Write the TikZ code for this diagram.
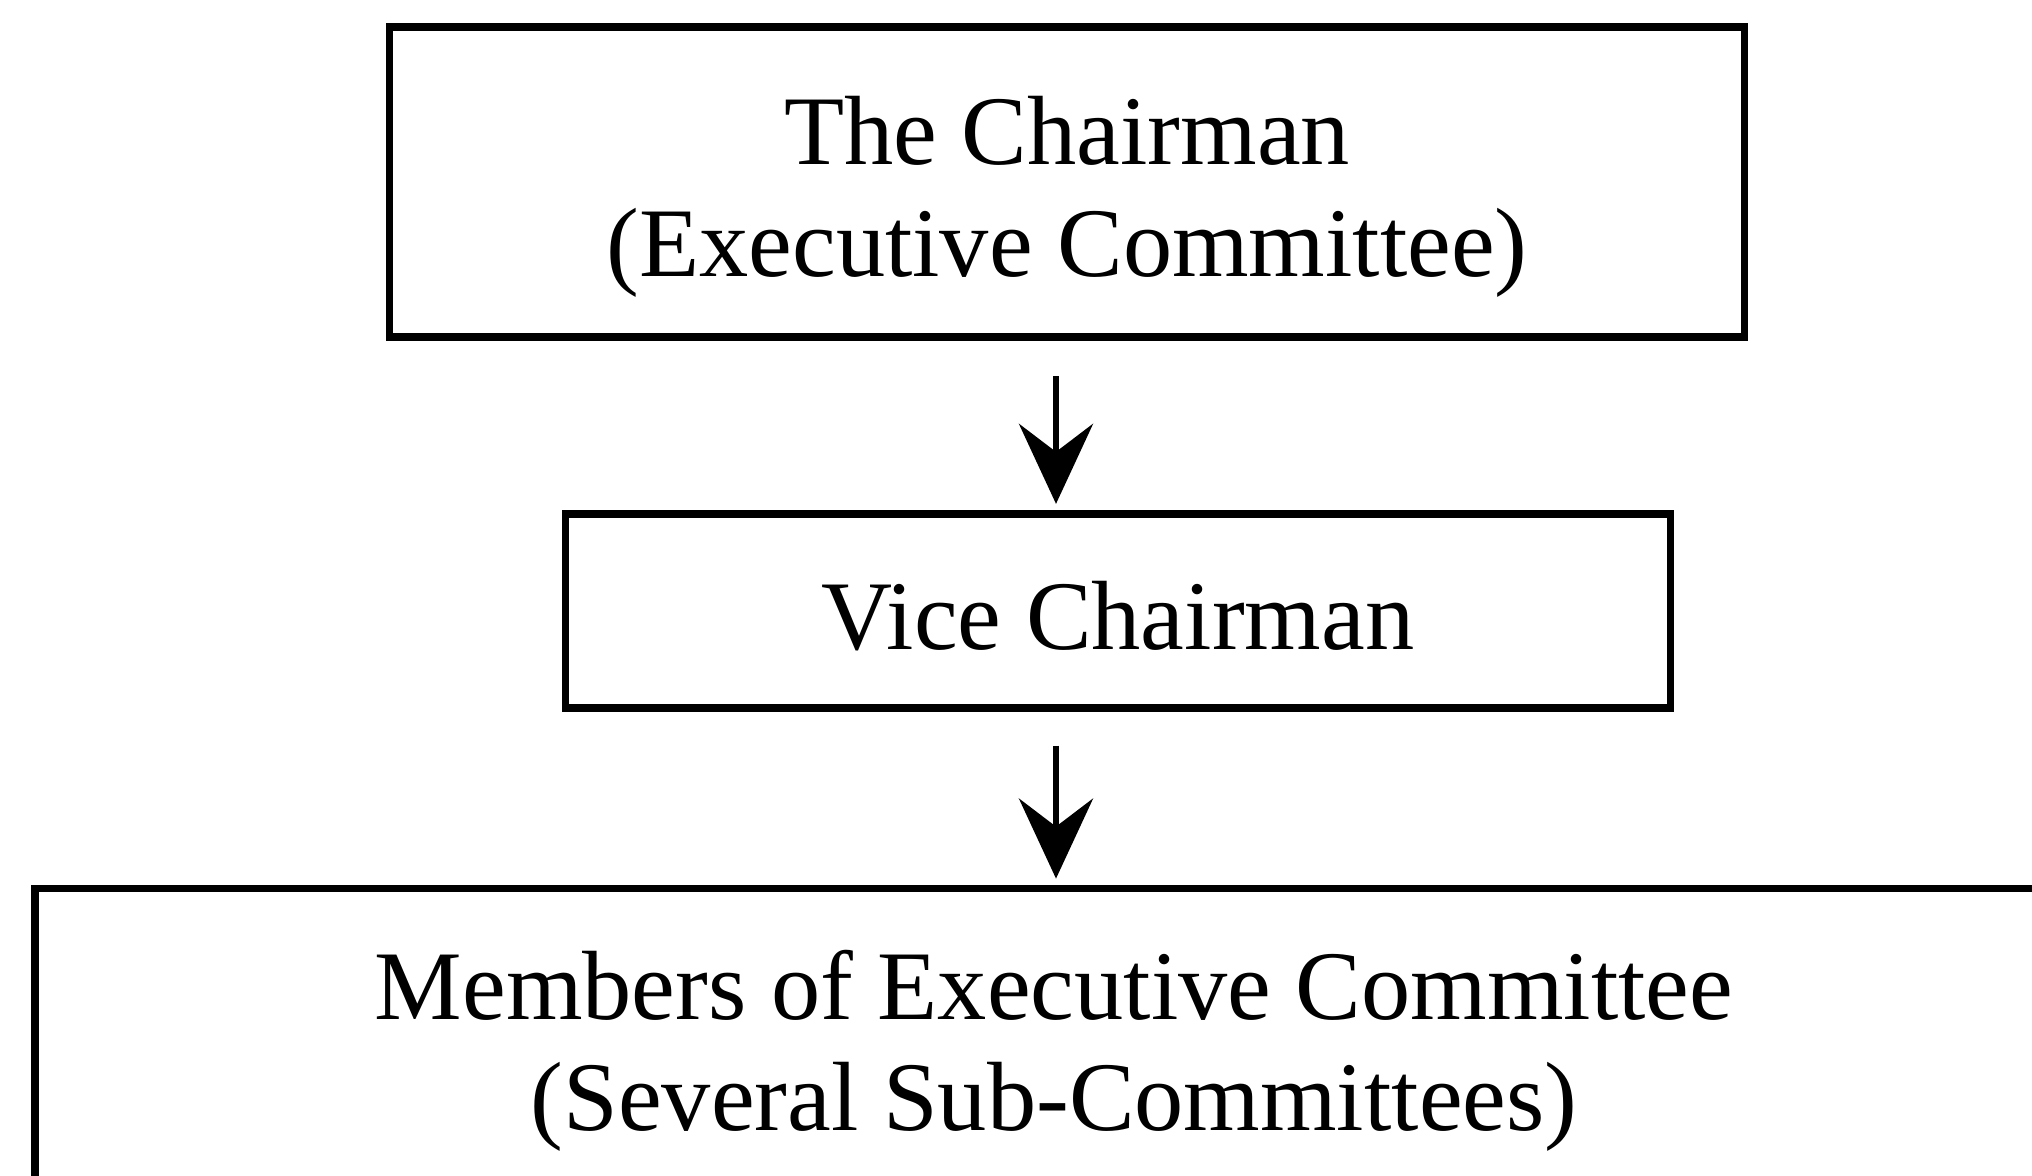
\documentclass[tikz,border=0pt]{standalone}
\usepackage{fontspec}
\setmainfont{Liberation Serif}
\usetikzlibrary{arrows.meta,positioning}

\begin{document}
\begin{tikzpicture}[
            > = {Stealth[length=8mm, width=7.4mm, inset=2.8mm]}, % arrow head style
            shorten > = 0.6mm, % stop just on the box line
            node distance = 1.7cm, % gap between boxes
            font = \fontsize{28}{31.6}\selectfont
        ]

        \tikzstyle{orgbox}=[
            draw = black,
            line width = 2.2pt,
            align = center,
            inner sep = 0pt
        ]
        \tikzstyle{flow}=[->, line width = 1.7pt]

        \useasboundingbox (0,0) rectangle (20.32,-11.76);
        \clip (0,0) rectangle (20.32,-11.76);

        \node[orgbox, minimum width=13.55cm, minimum height=3.1cm] (chair) at (10.67,-1.82) {\rule{0pt}{0.98cm}The Chairman\\(Executive Committee)};
        \node[orgbox, minimum width=11.05cm, minimum height=1.94cm] (vice) [below=1.69cm of chair, xshift=5.1mm] {\rule{0pt}{0.8cm}Vice Chairman};
        \node[orgbox, minimum width=20.38cm, minimum height=3.24cm] (members) [below=1.73cm of vice, xshift=-6.4mm] {Members of Executive Committee\\(Several Sub-Committees)};

        \draw[flow] ([xshift=-1.1mm, yshift=-3.5mm]chair.south) -- ([xshift=-1.1mm]chair.south |- vice.north);
        \draw[flow] ([xshift=-6.2mm, yshift=-3.4mm]vice.south) -- ([xshift=-6.2mm]vice.south |- members.north);

    \end{tikzpicture}
\end{document}
